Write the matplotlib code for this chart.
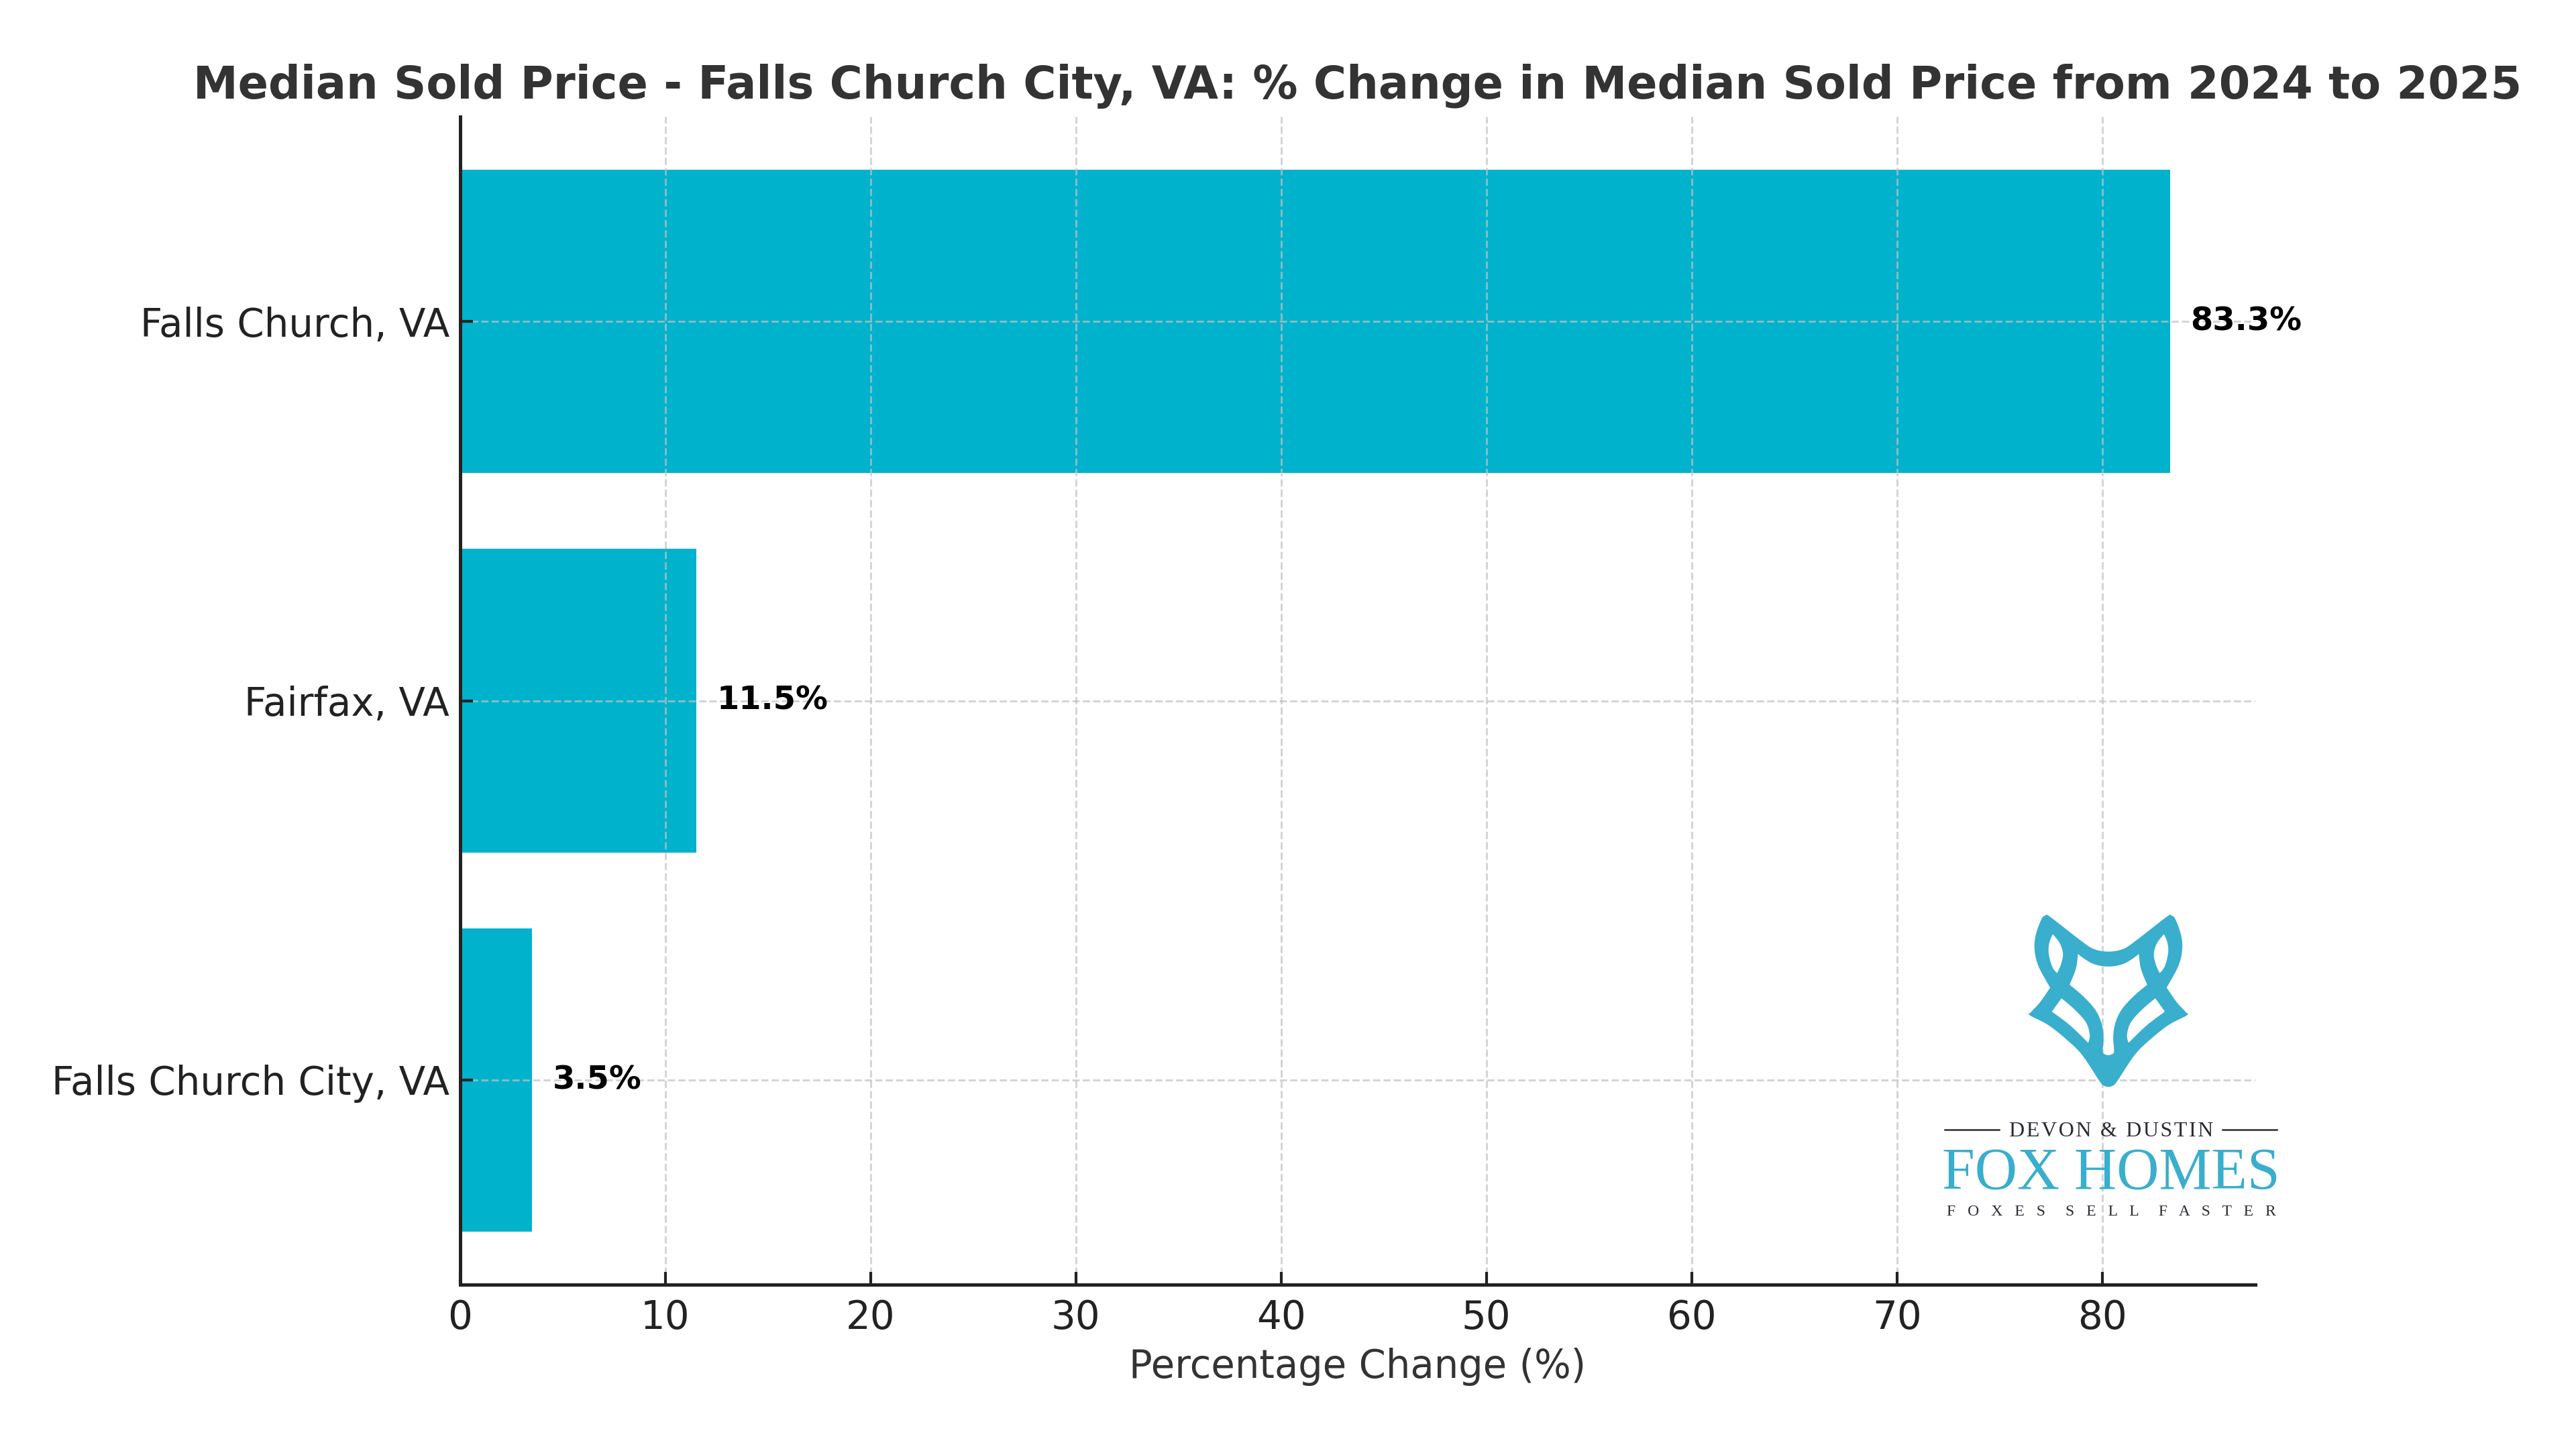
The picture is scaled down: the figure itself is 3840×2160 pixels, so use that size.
import numpy as np
import matplotlib
matplotlib.use('Agg')
import matplotlib.pyplot as plt
from matplotlib.path import Path
from matplotlib.patches import PathPatch

W, H = 3840, 2160

# data
cities = ['Falls Church City, VA', 'Fairfax, VA', 'Falls Church, VA']
pct_change = [3.5, 11.5, 83.3]
x_ticks = [0, 10, 20, 30, 40, 50, 60, 70, 80]

bar_color = '#00b2cc'
logo_blue = '#39aecd'
logo_dark = '#2a2c33'


def px(x, y):
    # image pixels (y down) to figure fraction
    return x / W, 1 - y / H


def zoom_to_px(pts):
    pts = np.array(pts, dtype=float)
    return np.column_stack([(2850 + pts[:, 0] / 2.55) / W, 1 - (1340 + pts[:, 1] / 3) / H])


def spline(pts, n=8):
    # closed catmull-rom through the points, a repeated point makes a corner
    pts = np.array(pts, dtype=float)
    out = []
    for i in range(len(pts)):
        p0, p1, p2, p3 = pts[i - 1], pts[i], pts[(i + 1) % len(pts)], pts[(i + 2) % len(pts)]
        for t in np.linspace(0, 1, n, endpoint=False):
            out.append(0.5 * (2 * p1 + (p2 - p0) * t + (2 * p0 - 5 * p1 + 4 * p2 - p3) * t ** 2
                              + (3 * p1 - p0 - 3 * p2 + p3) * t ** 3))
    return np.array(out)


def signed_area(p):
    x, y = p[:, 0], p[:, 1]
    return 0.5 * np.sum(x * np.roll(y, -1) - np.roll(x, -1) * y)


def ring(pts, hole=False):
    p = zoom_to_px(spline(pts))
    if (signed_area(p) > 0) == hole:
        p = p[::-1]
    verts = np.vstack([p, p[0]])
    codes = [Path.MOVETO] + [Path.LINETO] * (len(p) - 1) + [Path.CLOSEPOLY]
    return verts, codes


def mirror(pts, cx=747):
    return [(2 * cx - x, y) for x, y in pts]


fig = plt.figure(figsize=(12.8, 7.2), dpi=300, facecolor='white')
ax = fig.add_axes([686 / W, 1 - 1915 / H, (3362 - 686) / W, (1915 - 174) / H])

y_pos = np.arange(len(cities))
ax.barh(y_pos, pct_change, height=0.8, color=bar_color)
ax.set_yticks(y_pos)
ax.set_yticklabels(cities)
ax.set_xticks(x_ticks)
ax.set_xlim(0, max(pct_change) * 1.05)
ax.set_ylim(-0.54, 2.54)

for y, v in zip(y_pos, pct_change):
    ax.text(v + 1, y, f'{v}%', va='center', ha='left', fontsize=11.5, fontweight='bold', color='black')

ax.grid(True, linestyle='--', color='#c2c2c2', alpha=0.7, linewidth=0.7)
ax.spines['top'].set_visible(False)
ax.spines['right'].set_visible(False)
ax.spines['left'].set_linewidth(1.2)
ax.spines['bottom'].set_linewidth(1.2)
ax.spines['left'].set_color('#222222')
ax.spines['bottom'].set_color('#222222')
ax.tick_params(axis='both', direction='in', length=4.5, width=1, color='#222222', labelcolor='#222222', labelsize=13.9)
ax.tick_params(axis='x', pad=5)
ax.tick_params(axis='y', pad=3.8)

ax.set_xlabel('Percentage Change (%)', fontsize=13.85, color='#333333', labelpad=4)
ax.set_title('Median Sold Price - Falls Church City, VA: % Change in Median Sold Price from 2024 to 2025',
             fontsize=16.1, fontweight='bold', color='#333333', pad=6.5)

# logo
outer_left = [(747, 240), (690, 228), (640, 190), (525, 85), (510, 80), (497, 90), (475, 160), (470, 225),
              (485, 300), (530, 397), (530, 397), (490, 465), (455, 510), (455, 520), (520, 560), (590, 625),
              (650, 695), (715, 810), (730, 830), (747, 836)]
outer = outer_left + mirror(outer_left[1:-1])[::-1]
ear_left = [(535, 150), (535, 150), (565, 195), (578, 245), (570, 295), (553, 340), (553, 340), (530, 305),
            (516, 240), (520, 190)]
face_left = [(747, 298), (700, 290), (665, 270), (628, 238), (628, 238), (620, 310), (595, 385), (595, 385),
             (650, 440), (695, 500), (718, 560), (725, 620), (722, 685), (735, 700), (747, 703)]
face = face_left + mirror(face_left[1:-1])[::-1]
cheek_left = [(568, 438), (568, 438), (620, 490), (665, 550), (680, 610), (672, 652), (672, 652), (600, 570),
              (527, 505), (527, 505)]

verts, codes = [], []
for pts, hole in [(outer, False), (ear_left, True), (mirror(ear_left), True), (face, True),
                  (cheek_left, True), (mirror(cheek_left), True)]:
    v, c = ring(pts, hole)
    verts.append(v)
    codes += c
logo = PathPatch(Path(np.vstack(verts), codes), facecolor=logo_blue, edgecolor=logo_blue, linewidth=0.7,
                 transform=fig.transFigure, zorder=10)
fig.add_artist(logo)

serif = 'Liberation Serif'
thin = '\u200a'
fig.text(*px(3147, 1694), thin.join('DEVON & DUSTIN'), family=serif, fontsize=7.7, color=logo_dark,
         ha='center', va='baseline')
for x0, x1 in [(2899, 2980), (3313, 3394)]:
    fig.add_artist(plt.Line2D([x0 / W, x1 / W], [1 - 1684 / H] * 2, color=logo_dark, linewidth=0.6,
                              transform=fig.transFigure))
fig.text(*px(3147, 1772), 'FOX HOMES', family=serif, fontsize=21, color=logo_blue, ha='center', va='baseline')
tagline = '     '.join('   '.join(word) for word in ['FOXES', 'SELL', 'FASTER'])
fig.text(*px(3147, 1812), tagline, family=serif, fontsize=5.7, color=logo_dark, ha='center', va='baseline')

fig.savefig('out.png', dpi=300)
